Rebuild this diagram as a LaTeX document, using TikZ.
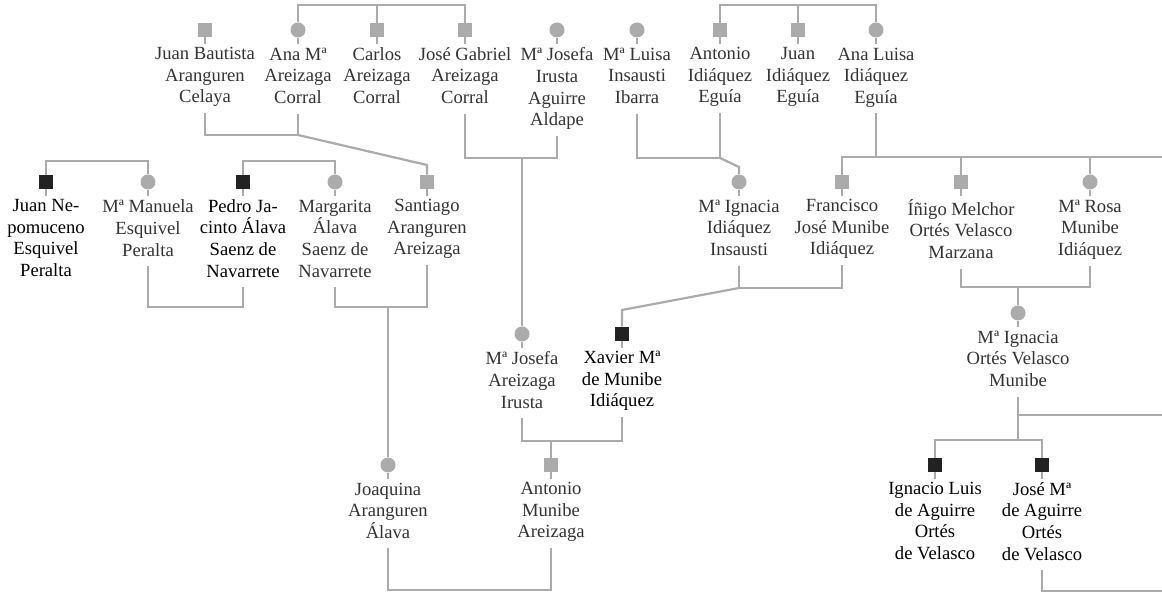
\documentclass[tikz,border=0pt]{standalone}
\usepackage{fontspec}
\setmainfont{Liberation Serif}
\usetikzlibrary{positioning}
\definecolor{linegray}{HTML}{ABABAB}
\definecolor{ink}{HTML}{333333}
\definecolor{dark}{HTML}{222222}

\tikzset{
  line/.style={draw=linegray, line width=1.1pt},
  male/.style={rectangle, fill=linegray, minimum size=7pt, inner sep=0pt},
  female/.style={circle, fill=linegray, minimum size=7.5pt, inner sep=0pt},
  maleb/.style={male, fill=dark},
  who/.style={align=center, font=\fontsize{9.3}{10.8}\selectfont, text=ink,
    inner xsep=1pt, inner ysep=1.6pt,
    execute at begin node=\strut, execute at end node=\strut,
    below=3.2pt of #1},
  whob/.style={who=#1, text=black},
}

\begin{document}
\begin{tikzpicture}[x=0.5pt, y=-0.5pt]
\useasboundingbox (0,0) rectangle (1162,592);

% top row
\node[male] (jbac) at (205,30) {};
\node[who=jbac] (jbac-t) {Juan Bautista\\Aranguren\\Celaya};
\node[female] (amac) at (298,30) {};
\node[who=amac] (amac-t) {Ana Mª\\Areizaga\\Corral};
\node[male] (cac) at (377,30) {};
\node[who=cac] (cac-t) {Carlos\\Areizaga\\Corral};
\node[male] (jgac) at (465,30) {};
\node[who=jgac] (jgac-t) {José Gabriel\\Areizaga\\Corral};
\node[female] (mjia) at (557,30) {};
\node[who=mjia] (mjia-t) {Mª Josefa\\Irusta\\Aguirre\\Aldape};
\node[female] (mlii) at (637,30) {};
\node[who=mlii] (mlii-t) {Mª Luisa\\Insausti\\Ibarra};
\node[male] (aie) at (720,30) {};
\node[who=aie] (aie-t) {Antonio\\Idiáquez\\Eguía};
\node[male] (jie) at (798,30) {};
\node[who=jie] (jie-t) {Juan\\Idiáquez\\Eguía};
\node[female] (alie) at (876,30) {};
\node[who=alie] (alie-t) {Ana Luisa\\Idiáquez\\Eguía};

% second row
\node[maleb] (jnep) at (46,182) {};
\node[whob=jnep] (jnep-t) {Juan Ne-\\pomuceno\\Esquivel\\Peralta};
\node[female] (mmep) at (148,182) {};
\node[who=mmep] (mmep-t) {Mª Manuela\\Esquivel\\Peralta};
\node[maleb] (pjas) at (243,182) {};
\node[whob=pjas] (pjas-t) {Pedro Ja-\\cinto Álava\\Saenz de\\Navarrete};
\node[female] (mas) at (335,182) {};
\node[who=mas] (mas-t) {Margarita\\Álava\\Saenz de\\Navarrete};
\node[male] (saa) at (427,182) {};
\node[who=saa] (saa-t) {Santiago\\Aranguren\\Areizaga};
\node[female] (miii) at (739,182) {};
\node[who=miii] (miii-t) {Mª Ignacia\\Idiáquez\\Insausti};
\node[male] (fjmi) at (842,182) {};
\node[who=fjmi] (fjmi-t) {Francisco\\José Munibe\\Idiáquez};
\node[male] (imov) at (961,182) {};
\node[who=imov] (imov-t) {Íñigo Melchor\\Ortés Velasco\\Marzana};
\node[female] (mrmi) at (1090,182) {};
\node[who=mrmi] (mrmi-t) {Mª Rosa\\Munibe\\Idiáquez};

% third row
\node[female] (miovm) at (1018,313) {};
\node[who=miovm] (miovm-t) {Mª Ignacia\\Ortés Velasco\\Munibe};
\node[female] (mjai) at (522,334) {};
\node[who=mjai] (mjai-t) {Mª Josefa\\Areizaga\\Irusta};
\node[maleb] (xmmi) at (622,334) {};
\node[whob=xmmi] (xmmi-t) {Xavier Mª\\de Munibe\\Idiáquez};

% fourth row
\node[female] (jaa) at (388,465) {};
\node[who=jaa] (jaa-t) {Joaquina\\Aranguren\\Álava};
\node[male] (ama) at (551,465) {};
\node[who=ama] (ama-t) {Antonio\\Munibe\\Areizaga};
\node[maleb] (ilao) at (935,465) {};
\node[whob=ilao] (ilao-t) {Ignacio Luis\\de Aguirre\\Ortés\\de Velasco};
\node[maleb] (jmao) at (1042,465) {};
\node[whob=jmao] (jmao-t) {José Mª\\de Aguirre\\Ortés\\de Velasco};

\foreach \p in {jbac,amac,cac,jgac,mjia,mlii,aie,jie,alie,jnep,mmep,pjas,mas,saa,
    miii,fjmi,imov,mrmi,miovm,mjai,xmmi,jaa,ama,ilao,jmao}
    \draw[line] (\p.south) -- (\p-t.north);

% siblings
\draw[line] (amac.north) |- (jgac.north |- 0,5) -- (jgac.north);
\draw[line] (cac.north) -- (cac.north |- 0,5);
\draw[line] (aie.north) |- (alie.north |- 0,5) -- (alie.north);
\draw[line] (jie.north) -- (jie.north |- 0,5);
\draw[line] (jnep.north) |- (mmep.north |- 0,161) -- (mmep.north);
\draw[line] (pjas.north) |- (mas.north |- 0,161) -- (mas.north);

% couples
\draw[line] (jbac-t.south) |- (amac-t.south |- 0,135) -- (amac-t.south);
\draw[line] (amac-t.south |- 0,135) -- (saa.north |- 0,165) -- (saa.north);

\draw[line] (jgac-t.south) |- (mjia-t.south |- 0,158) -- (mjia-t.south);
\draw[line] (mjai.north |- 0,158) -- (mjai.north);

\draw[line] (mlii-t.south) |- (aie-t.south |- 0,158) -- (aie-t.south);
\draw[line] (aie-t.south |- 0,158) -- (miii.north |- 0,167) -- (miii.north);

\coordinate (edge1) at (1162,157);
\draw[line] (alie-t.south) -- (alie-t.south |- edge1);
\draw[line] (fjmi.north) |- (edge1);
\draw[line] (imov.north) -- (imov.north |- edge1);
\draw[line] (mrmi.north) -- (mrmi.north |- edge1);

\draw[line] (mmep-t.south) |- (pjas-t.south |- 0,307) -- (pjas-t.south);
\draw[line] (mas-t.south) |- (saa-t.south |- 0,307) -- (saa-t.south);
\draw[line] (jaa.north |- 0,307) -- (jaa.north);

\draw[line] (miii-t.south) |- (fjmi-t.south |- 0,288) -- (fjmi-t.south);
\draw[line] (miii-t.south |- 0,288) -- (xmmi.north |- 0,310) -- (xmmi.north);

\draw[line] (imov-t.south) |- (mrmi-t.south |- 0,287) -- (mrmi-t.south);
\draw[line] (miovm.north |- 0,287) -- (miovm.north);

\coordinate (edge2) at (1162,415);
\draw[line] (miovm-t.south) -- (miovm-t.south |- 0,440);
\draw[line] (miovm-t.south |- edge2) -- (edge2);
\draw[line] (ilao.north) |- (jmao.north |- 0,440) -- (jmao.north);

\draw[line] (mjai-t.south) |- (xmmi-t.south |- 0,441) -- (xmmi-t.south);
\draw[line] (ama.north |- 0,441) -- (ama.north);

\draw[line] (jaa-t.south) |- (ama-t.south |- 0,590) -- (ama-t.south);

\coordinate (edge3) at (1162,591);
\draw[line] (jmao-t.south) |- (edge3);
\end{tikzpicture}
\end{document}
